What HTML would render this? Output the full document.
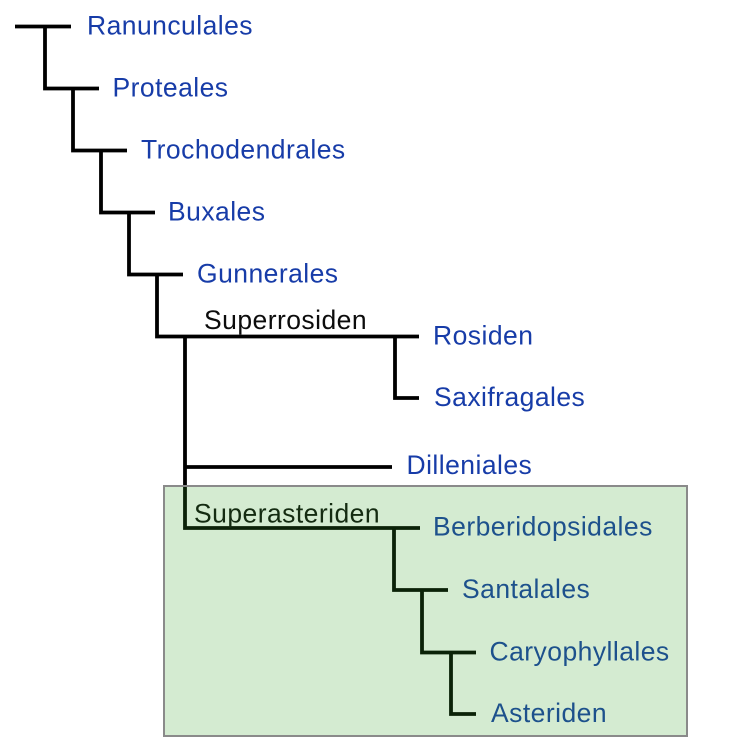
<!DOCTYPE html>
<html>
<head>
<meta charset="utf-8">
<style>
  html, body { margin: 0; padding: 0; background: #ffffff; }
  svg { display: block; }
  text { font-family: "Liberation Sans", Arial, sans-serif; font-size: 26.5px; letter-spacing: 0.45px; }
  .b { fill: #173ca8; }
  .k { fill: #0c0c0c; }
</style>
</head>
<body>
<svg width="751" height="751" viewBox="0 0 751 751" xmlns="http://www.w3.org/2000/svg">
  <rect x="0" y="0" width="751" height="751" fill="#ffffff"/>
  <g fill="none" stroke="#000000" stroke-width="3.8" stroke-linejoin="miter" stroke-linecap="butt">
    <path d="M15 26.5 H71"/>
    <path d="M45 26.5 V88.5 H99"/>
    <path d="M73 88.5 V150.5 H127"/>
    <path d="M101 150.5 V212.5 H155"/>
    <path d="M129 212.5 V274.5 H183"/>
    <path d="M157 274.5 V336.5 H419"/>
    <path d="M395 336.5 V398 H419"/>
    <path d="M185 336.5 V528 H420"/>
    <path d="M185 467 H392"/>
    <path d="M394 528 V590 H448"/>
    <path d="M422 590 V652.5 H476"/>
    <path d="M451 652.5 V714 H476"/>
  </g>

  <text class="b" x="87" y="34.5">Ranunculales</text>
  <text class="b" x="112.5" y="96.5">Proteales</text>
  <text class="b" x="141" y="158.5">Trochodendrales</text>
  <text class="b" x="168" y="220.5">Buxales</text>
  <text class="b" x="197" y="282.5">Gunnerales</text>
  <text class="k" x="204" y="329">Superrosiden</text>
  <text class="b" x="433" y="344.5">Rosiden</text>
  <text class="b" x="434" y="406">Saxifragales</text>
  <text class="b" x="406.5" y="474">Dilleniales</text>
  <text class="k" x="194" y="522.5">Superasteriden</text>
  <text class="b" x="433" y="535.5">Berberidopsidales</text>
  <text class="b" x="462" y="598">Santalales</text>
  <text class="b" x="489.5" y="660.5">Caryophyllales</text>
  <text class="b" x="491" y="722">Asteriden</text>

  <rect x="164" y="486" width="523" height="250" fill="rgba(50,160,40,0.21)" stroke="#8a8a8a" stroke-width="2"/>
</svg>
</body>
</html>
